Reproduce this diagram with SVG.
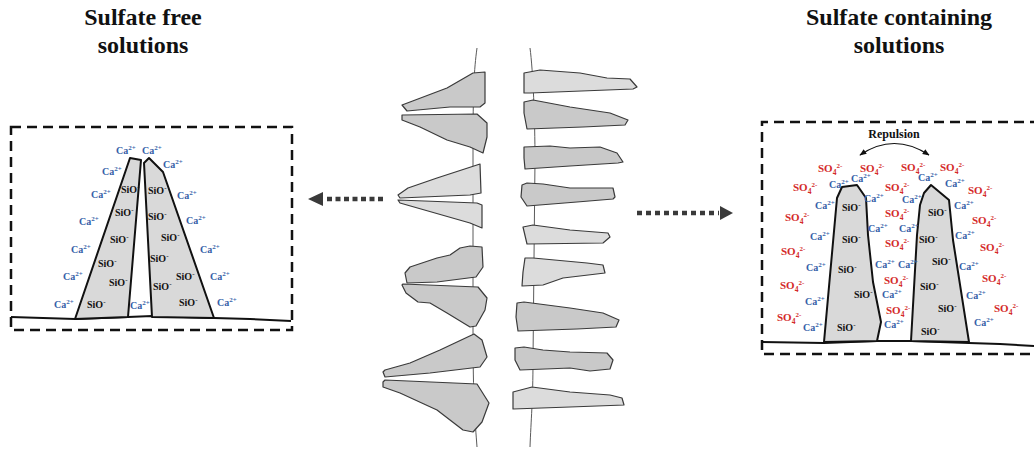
<svg xmlns="http://www.w3.org/2000/svg" width="1034" height="450" viewBox="0 0 1034 450">
  <style>
    .title { font: bold 24px "Liberation Serif", serif; fill: #111; text-anchor: middle; }
    .ca { font: bold 10px "Liberation Serif", serif; fill: #3560a8; }
    .si { font: bold 10px "Liberation Serif", serif; fill: #111; }
    .so { font: bold 11px "Liberation Serif", serif; fill: #d42a2a; }
    .sp { font-size: 7px; }
    .sb { font-size: 7.5px; }
    .rep { font: bold 12px "Liberation Serif", serif; fill: #111; text-anchor: middle; }
    .frame { fill: none; stroke: #111; stroke-width: 2.5; stroke-dasharray: 10 6; }
    .ground { fill: none; stroke: #111; stroke-width: 2; }
    .pillar { fill: #d9d9d9; stroke: #111; stroke-width: 2; stroke-linejoin: round; }
    .axis { fill: none; stroke: #5a5a5a; stroke-width: 1; }
    .pd { fill: #c9c9c9; stroke: #3a3a3a; stroke-width: 1.2; stroke-linejoin: round; }
    .pl { fill: #dcdcdc; stroke: #3a3a3a; stroke-width: 1.2; stroke-linejoin: round; }
    .dots { fill: none; stroke: #3a3a3a; stroke-width: 4.5; }
    .head { fill: #3a3a3a; }
    .arc { fill: none; stroke: #111; stroke-width: 1.2; }
  </style>
  <defs>
    <marker id="tip" viewBox="0 0 10 10" refX="9" refY="5" markerWidth="7" markerHeight="7" orient="auto-start-reverse" markerUnits="userSpaceOnUse">
      <path d="M0,1 L10,5 L0,9 Z" fill="#111"/>
    </marker>
  </defs>

  <rect width="1034" height="450" fill="#fff"/>

  <!-- headings -->
  <g id="title-left">
    <text class="title" x="143" y="25">Sulfate free</text>
    <text class="title" x="143" y="53">solutions</text>
  </g>
  <g id="title-right">
    <text class="title" x="899" y="25">Sulfate containing</text>
    <text class="title" x="899" y="53">solutions</text>
  </g>

  <!-- sulfate-free panel -->
  <g id="panel-free">
    <path class="frame" d="M11 127 H292 V330 H11 Z"/>
    <path class="ground" d="M11 317 L75 319 L128 317 L152 316 L214 318 L250 319 L291 321"/>
    <polygon class="pillar" points="75,319 130,158 141,160 128,317"/>
    <polygon class="pillar" points="152,317 144,163 149,158 163,172 214,318"/>
    <g id="free-ca">
      <text class="ca" x="116" y="154">Ca<tspan class="sp" dy="-4">2+</tspan></text>
      <text class="ca" x="142" y="154">Ca<tspan class="sp" dy="-4">2+</tspan></text>
      <text class="ca" x="102" y="175">Ca<tspan class="sp" dy="-4">2+</tspan></text>
      <text class="ca" x="91" y="198">Ca<tspan class="sp" dy="-4">2+</tspan></text>
      <text class="ca" x="79" y="225">Ca<tspan class="sp" dy="-4">2+</tspan></text>
      <text class="ca" x="71" y="253">Ca<tspan class="sp" dy="-4">2+</tspan></text>
      <text class="ca" x="63" y="280">Ca<tspan class="sp" dy="-4">2+</tspan></text>
      <text class="ca" x="54" y="308">Ca<tspan class="sp" dy="-4">2+</tspan></text>
      <text class="ca" x="130" y="309">Ca<tspan class="sp" dy="-4">2+</tspan></text>
      <text class="ca" x="163" y="168">Ca<tspan class="sp" dy="-4">2+</tspan></text>
      <text class="ca" x="177" y="199">Ca<tspan class="sp" dy="-4">2+</tspan></text>
      <text class="ca" x="186" y="224">Ca<tspan class="sp" dy="-4">2+</tspan></text>
      <text class="ca" x="200" y="253">Ca<tspan class="sp" dy="-4">2+</tspan></text>
      <text class="ca" x="210" y="280">Ca<tspan class="sp" dy="-4">2+</tspan></text>
      <text class="ca" x="217" y="306">Ca<tspan class="sp" dy="-4">2+</tspan></text>
    </g>
    <g id="free-sio">
      <text class="si" x="121" y="193">SiO<tspan class="sp" dy="-4">-</tspan></text>
      <text class="si" x="115" y="216">SiO<tspan class="sp" dy="-4">-</tspan></text>
      <text class="si" x="110" y="243">SiO<tspan class="sp" dy="-4">-</tspan></text>
      <text class="si" x="98" y="267">SiO<tspan class="sp" dy="-4">-</tspan></text>
      <text class="si" x="109" y="286">SiO<tspan class="sp" dy="-4">-</tspan></text>
      <text class="si" x="87" y="308">SiO<tspan class="sp" dy="-4">-</tspan></text>
      <text class="si" x="148" y="194">SiO<tspan class="sp" dy="-4">-</tspan></text>
      <text class="si" x="148" y="220">SiO<tspan class="sp" dy="-4">-</tspan></text>
      <text class="si" x="161" y="241">SiO<tspan class="sp" dy="-4">-</tspan></text>
      <text class="si" x="150" y="262">SiO<tspan class="sp" dy="-4">-</tspan></text>
      <text class="si" x="176" y="280">SiO<tspan class="sp" dy="-4">-</tspan></text>
      <text class="si" x="153" y="290">SiO<tspan class="sp" dy="-4">-</tspan></text>
      <text class="si" x="179" y="306">SiO<tspan class="sp" dy="-4">-</tspan></text>
    </g>
  </g>

  <!-- central cross-section: two chains with plates -->
  <g id="center-section">
    <path class="axis" d="M477 48 C474 70 473 90 473 150 L473 330 C473 400 475 420 477 447"/>
    <path class="axis" d="M530 48 C533 70 535 120 535 160 L533 360 C533 400 531 420 530 447"/>
    <g id="plates-left">
      <polygon class="pd" points="402,105 410,102 447,88 473,73 485,72 485,103 480,107 450,107 407,111"/>
      <polygon class="pd" points="402,115 477,114 487,123 487,137 483,153 470,147 447,140 420,127 402,120"/>
      <polygon class="pl" points="398,195 408,188 437,178 480,164 481,193 470,195 400,198"/>
      <polygon class="pl" points="398,200 477,203 482,205 482,228 470,223 400,203"/>
      <polygon class="pd" points="405,273 410,267 437,258 450,255 460,248 470,246 482,247 483,267 476,277 437,282 407,283"/>
      <polygon class="pd" points="402,285 406,293 418,302 430,303 447,313 470,327 476,326 485,310 487,298 478,287 403,284"/>
      <polygon class="pd" points="383,372 385,377 430,373 480,367 487,357 482,340 474,334 440,350 410,363 385,370"/>
      <polygon class="pd" points="383,382 383,387 400,393 437,410 463,430 473,432 482,422 489,403 477,384 385,380"/>
    </g>
    <g id="plates-right">
      <polygon class="pl" points="524,73 540,70 580,73 607,78 630,79 637,87 633,89 530,93 524,93"/>
      <polygon class="pd" points="524,102 533,100 570,107 610,113 628,120 625,125 583,127 527,129 524,113"/>
      <polygon class="pd" points="524,147 550,146 570,148 600,147 617,153 623,162 618,163 570,166 525,169 524,158"/>
      <polygon class="pd" points="522,185 527,183 543,184 570,188 613,188 615,197 613,199 577,202 527,206 521,197"/>
      <polygon class="pl" points="523,227 533,225 570,230 608,233 610,237 603,243 527,244"/>
      <polygon class="pl" points="525,258 533,258 587,263 603,265 605,273 563,278 543,285 522,286 523,272"/>
      <polygon class="pd" points="517,303 524,302 570,308 603,313 619,320 616,327 577,329 518,331 516,317"/>
      <polygon class="pd" points="515,348 524,347 543,350 570,352 607,353 613,360 610,369 590,371 570,368 520,370 515,360"/>
      <polygon class="pl" points="513,392 532,387 570,392 610,395 622,398 624,405 570,407 513,409"/>
    </g>
  </g>

  <!-- sulfate-containing panel -->
  <g id="panel-sulfate">
    <path class="frame" d="M1040 122 H762 V354 H1040"/>
    <path class="ground" d="M762 342 L824 343 L877 341 L911 341 L969 343 L1000 344 L1034 346"/>
    <polygon class="pillar" points="824,342 837,198 842,187 857,185 866,198 868,235 873,282 881,322 877,341"/>
    <polygon class="pillar" points="911,341 917,235 920,205 924,193 931,185 949,200 953,240 969,342"/>
    <text class="rep" x="894" y="138">Repulsion</text>
    <g id="sulfate-ca">
      <text class="ca" x="829" y="188">Ca<tspan class="sp" dy="-4">2+</tspan></text>
      <text class="ca" x="851" y="182">Ca<tspan class="sp" dy="-4">2+</tspan></text>
      <text class="ca" x="815" y="209">Ca<tspan class="sp" dy="-4">2+</tspan></text>
      <text class="ca" x="864" y="202">Ca<tspan class="sp" dy="-4">2+</tspan></text>
      <text class="ca" x="810" y="240">Ca<tspan class="sp" dy="-4">2+</tspan></text>
      <text class="ca" x="868" y="232">Ca<tspan class="sp" dy="-4">2+</tspan></text>
      <text class="ca" x="806" y="271">Ca<tspan class="sp" dy="-4">2+</tspan></text>
      <text class="ca" x="875" y="268">Ca<tspan class="sp" dy="-4">2+</tspan></text>
      <text class="ca" x="805" y="305">Ca<tspan class="sp" dy="-4">2+</tspan></text>
      <text class="ca" x="882" y="298">Ca<tspan class="sp" dy="-4">2+</tspan></text>
      <text class="ca" x="803" y="331">Ca<tspan class="sp" dy="-4">2+</tspan></text>
      <text class="ca" x="884" y="328">Ca<tspan class="sp" dy="-4">2+</tspan></text>
      <text class="ca" x="918" y="181">Ca<tspan class="sp" dy="-4">2+</tspan></text>
      <text class="ca" x="945" y="187">Ca<tspan class="sp" dy="-4">2+</tspan></text>
      <text class="ca" x="902" y="203">Ca<tspan class="sp" dy="-4">2+</tspan></text>
      <text class="ca" x="954" y="209">Ca<tspan class="sp" dy="-4">2+</tspan></text>
      <text class="ca" x="899" y="232">Ca<tspan class="sp" dy="-4">2+</tspan></text>
      <text class="ca" x="955" y="239">Ca<tspan class="sp" dy="-4">2+</tspan></text>
      <text class="ca" x="898" y="268">Ca<tspan class="sp" dy="-4">2+</tspan></text>
      <text class="ca" x="959" y="270">Ca<tspan class="sp" dy="-4">2+</tspan></text>
      <text class="ca" x="966" y="299">Ca<tspan class="sp" dy="-4">2+</tspan></text>
      <text class="ca" x="974" y="326">Ca<tspan class="sp" dy="-4">2+</tspan></text>
    </g>
    <g id="sulfate-so4">
      <text class="so" x="818" y="172">SO<tspan class="sb" dy="2.5">4</tspan><tspan class="sp" dy="-7">2-</tspan></text>
      <text class="so" x="860" y="172">SO<tspan class="sb" dy="2.5">4</tspan><tspan class="sp" dy="-7">2-</tspan></text>
      <text class="so" x="901" y="171">SO<tspan class="sb" dy="2.5">4</tspan><tspan class="sp" dy="-7">2-</tspan></text>
      <text class="so" x="940" y="171">SO<tspan class="sb" dy="2.5">4</tspan><tspan class="sp" dy="-7">2-</tspan></text>
      <text class="so" x="793" y="191">SO<tspan class="sb" dy="2.5">4</tspan><tspan class="sp" dy="-7">2-</tspan></text>
      <text class="so" x="885" y="191">SO<tspan class="sb" dy="2.5">4</tspan><tspan class="sp" dy="-7">2-</tspan></text>
      <text class="so" x="968" y="194">SO<tspan class="sb" dy="2.5">4</tspan><tspan class="sp" dy="-7">2-</tspan></text>
      <text class="so" x="785" y="221">SO<tspan class="sb" dy="2.5">4</tspan><tspan class="sp" dy="-7">2-</tspan></text>
      <text class="so" x="885" y="217">SO<tspan class="sb" dy="2.5">4</tspan><tspan class="sp" dy="-7">2-</tspan></text>
      <text class="so" x="972" y="224">SO<tspan class="sb" dy="2.5">4</tspan><tspan class="sp" dy="-7">2-</tspan></text>
      <text class="so" x="885" y="247">SO<tspan class="sb" dy="2.5">4</tspan><tspan class="sp" dy="-7">2-</tspan></text>
      <text class="so" x="980" y="251">SO<tspan class="sb" dy="2.5">4</tspan><tspan class="sp" dy="-7">2-</tspan></text>
      <text class="so" x="781" y="255">SO<tspan class="sb" dy="2.5">4</tspan><tspan class="sp" dy="-7">2-</tspan></text>
      <text class="so" x="884" y="284">SO<tspan class="sb" dy="2.5">4</tspan><tspan class="sp" dy="-7">2-</tspan></text>
      <text class="so" x="982" y="282">SO<tspan class="sb" dy="2.5">4</tspan><tspan class="sp" dy="-7">2-</tspan></text>
      <text class="so" x="780" y="289">SO<tspan class="sb" dy="2.5">4</tspan><tspan class="sp" dy="-7">2-</tspan></text>
      <text class="so" x="886" y="314">SO<tspan class="sb" dy="2.5">4</tspan><tspan class="sp" dy="-7">2-</tspan></text>
      <text class="so" x="994" y="312">SO<tspan class="sb" dy="2.5">4</tspan><tspan class="sp" dy="-7">2-</tspan></text>
      <text class="so" x="777" y="321">SO<tspan class="sb" dy="2.5">4</tspan><tspan class="sp" dy="-7">2-</tspan></text>
    </g>
    <g id="sulfate-sio">
      <text class="si" x="842" y="211">SiO<tspan class="sp" dy="-4">-</tspan></text>
      <text class="si" x="842" y="243">SiO<tspan class="sp" dy="-4">-</tspan></text>
      <text class="si" x="838" y="273">SiO<tspan class="sp" dy="-4">-</tspan></text>
      <text class="si" x="854" y="298">SiO<tspan class="sp" dy="-4">-</tspan></text>
      <text class="si" x="837" y="331">SiO<tspan class="sp" dy="-4">-</tspan></text>
      <text class="si" x="928" y="216">SiO<tspan class="sp" dy="-4">-</tspan></text>
      <text class="si" x="919" y="243">SiO<tspan class="sp" dy="-4">-</tspan></text>
      <text class="si" x="932" y="265">SiO<tspan class="sp" dy="-4">-</tspan></text>
      <text class="si" x="920" y="290">SiO<tspan class="sp" dy="-4">-</tspan></text>
      <text class="si" x="938" y="312">SiO<tspan class="sp" dy="-4">-</tspan></text>
      <text class="si" x="921" y="335">SiO<tspan class="sp" dy="-4">-</tspan></text>
    </g>
  </g>

  <!-- connectors -->
  <g id="connectors">
    <line class="dots" x1="383" y1="199" x2="325" y2="199" stroke-dasharray="5 3.5"/>
    <polygon class="head" points="308,199 323,192 323,206"/>
    <line class="dots" x1="637" y1="213" x2="719" y2="213" stroke-dasharray="5 4"/>
    <polygon class="head" points="733,213 720,206 720,220"/>
    <path class="arc" d="M860 155 Q894 132 929 155" marker-start="url(#tip)" marker-end="url(#tip)"/>
  </g>
</svg>
